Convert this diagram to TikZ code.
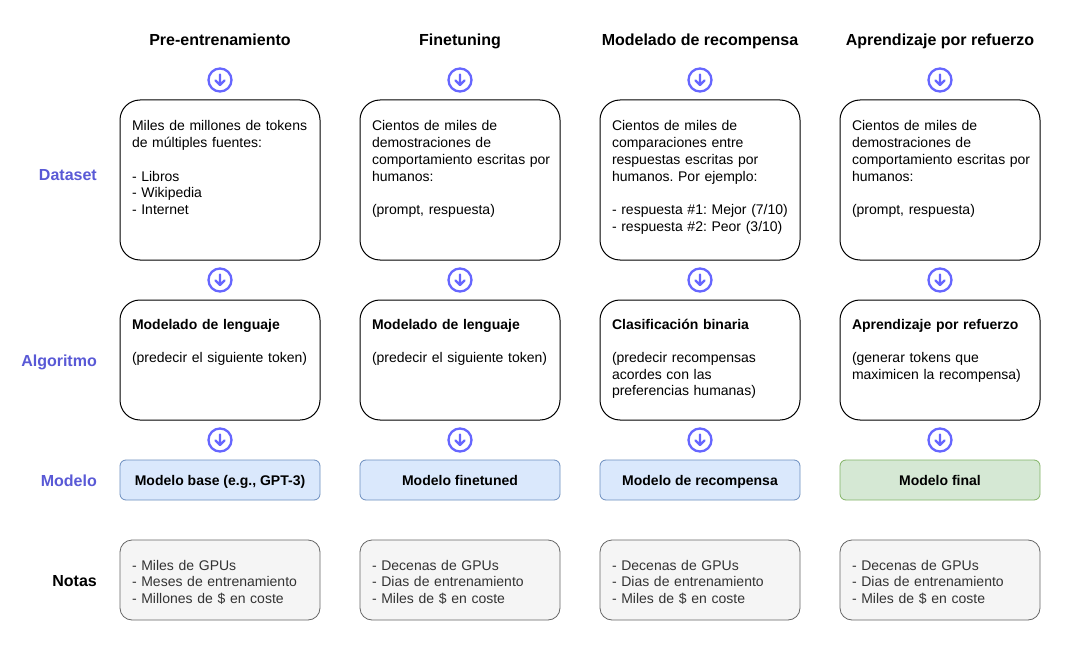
\documentclass[tikz,border=0pt]{standalone}
\usepackage{fontspec}
\setmainfont{Liberation Sans}
\usepackage{tikz}
\usetikzlibrary{positioning}
\definecolor{labelblue}{RGB}{89,89,214}
\definecolor{iconblue}{RGB}{102,102,255}
\definecolor{modelfill}{HTML}{DAE8FC}
\definecolor{modeldraw}{HTML}{6C8EBF}
\definecolor{finalfill}{HTML}{D5E8D4}
\definecolor{finaldraw}{HTML}{82B366}
\definecolor{notefill}{HTML}{F5F5F5}
\definecolor{notedraw}{HTML}{666666}
\definecolor{notetext}{HTML}{333333}
\frenchspacing

\begin{document}
\begin{tikzpicture}[x=1pt, y=-1pt,
every node/.style={font=\fontsize{14}{16.7}\selectfont},
stage/.style={font=\fontsize{16}{19}\selectfont\bfseries, anchor=base},
rowlabel/.style={font=\fontsize{16}{19}\selectfont\bfseries, text=labelblue, anchor=base east, inner xsep=0pt},
textbox/.style={draw, line width=1pt, rounded corners=20pt, text width=176pt, align=left, inner xsep=12pt, inner ysep=0pt, outer sep=0pt},
databox/.style={textbox, text height=31pt, text depth=129pt},
algobox/.style={textbox, text height=29pt, text depth=91pt},
modelbox/.style={draw=modeldraw, fill=modelfill, line width=0.8pt, rounded corners=6pt, minimum width=200pt, inner ysep=0pt, text height=25pt, text depth=15pt, outer sep=0pt, font=\fontsize{14}{16.7}\selectfont\bfseries},
finalbox/.style={modelbox, draw=finaldraw, fill=finalfill},
notebox/.style={draw=notedraw, fill=notefill, text=notetext, line width=0.8pt, rounded corners=12pt, text width=176pt, align=left, inner xsep=12pt, inner ysep=0pt, text height=30pt, text depth=50pt, outer sep=0pt},
downicon/.pic={\draw[iconblue, line width=2.3pt] (0,0) circle (11.5);
\draw[iconblue, line width=2.2pt, line cap=round, line join=round] (0,-5.5) -- (0,5) (-4.5,0.5) -- (0,5) -- (4.5,0.5);}
]
\fill[white] (0,0) rectangle (1071,650);

\node[databox, anchor=north] (d1) at (220,100) {Miles de millones de tokens\\ de múltiples fuentes:\\[16.7pt] - Libros\\ - Wikipedia\\ - Internet};
\node[databox, right=40pt of d1] (d2) {Cientos de miles de\\ demostraciones de\\ \mbox{comportamiento escritas por}\\ humanos:\\[16.7pt] (prompt, respuesta)};
\node[databox, right=40pt of d2] (d3) {Cientos de miles de\\ comparaciones entre\\ respuestas escritas por\\ humanos. Por ejemplo:\\[16.7pt] \mbox{- respuesta \#1: Mejor (7/10)}\\ \mbox{- respuesta \#2: Peor (3/10)}};
\node[databox, right=40pt of d3] (d4) {Cientos de miles de\\ demostraciones de\\ \mbox{comportamiento escritas por}\\ humanos:\\[16.7pt] (prompt, respuesta)};

\node[algobox, below=40pt of d1] (a1) {\textbf{Modelado de lenguaje}\\[16.7pt] (predecir el siguiente token)};
\node[algobox, right=40pt of a1] (a2) {\textbf{Modelado de lenguaje}\\[16.7pt] (predecir el siguiente token)};
\node[algobox, right=40pt of a2] (a3) {\textbf{Clasificación binaria}\\[16.7pt] (predecir recompensas\\ acordes con las\\ preferencias humanas)};
\node[algobox, right=40pt of a3] (a4) {\textbf{Aprendizaje por refuerzo}\\[16.7pt] (generar tokens que\\ maximicen la recompensa)};

\node[modelbox, below=40pt of a1] (m1) {Modelo base (e.g., GPT-3)};
\node[modelbox, right=40pt of m1] (m2) {Modelo finetuned};
\node[modelbox, right=40pt of m2] (m3) {Modelo de recompensa};
\node[finalbox, right=40pt of m3] (m4) {Modelo final};

\node[notebox, below=40pt of m1] (n1) {- Miles de GPUs\\ - Meses de entrenamiento\\ - Millones de \$ en coste};
\node[notebox, right=40pt of n1] (n2) {- Decenas de GPUs\\ - Dias de entrenamiento\\ - Miles de \$ en coste};
\node[notebox, right=40pt of n2] (n3) {- Decenas de GPUs\\ - Dias de entrenamiento\\ - Miles de \$ en coste};
\node[notebox, right=40pt of n3] (n4) {- Decenas de GPUs\\ - Dias de entrenamiento\\ - Miles de \$ en coste};

\node[stage] (s1) at ([yshift=54pt]d1.north) {Pre-entrenamiento};
\node[stage] (s2) at ([yshift=54pt]d2.north) {Finetuning};
\node[stage] (s3) at ([yshift=54pt]d3.north) {Modelado de recompensa};
\node[stage] (s4) at ([yshift=54pt]d4.north) {Aprendizaje por refuerzo};

\node[rowlabel] (ldata) at (97,180) {Dataset};
\node[rowlabel] (lalgo) at (97,366) {Algoritmo};
\node[rowlabel] (lmodel) at (97,486) {Modelo};
\node[rowlabel, text=black] (lnotes) at (97,586) {Notas};

\pic at ([yshift=20pt]d1.north) {downicon}; \pic at ([yshift=20pt]d2.north) {downicon};
\pic at ([yshift=20pt]d3.north) {downicon}; \pic at ([yshift=20pt]d4.north) {downicon};
\pic at ([yshift=-20pt]d1.south) {downicon}; \pic at ([yshift=-20pt]d2.south) {downicon};
\pic at ([yshift=-20pt]d3.south) {downicon}; \pic at ([yshift=-20pt]d4.south) {downicon};
\pic at ([yshift=-20pt]a1.south) {downicon}; \pic at ([yshift=-20pt]a2.south) {downicon};
\pic at ([yshift=-20pt]a3.south) {downicon}; \pic at ([yshift=-20pt]a4.south) {downicon};
\end{tikzpicture}
\end{document}
